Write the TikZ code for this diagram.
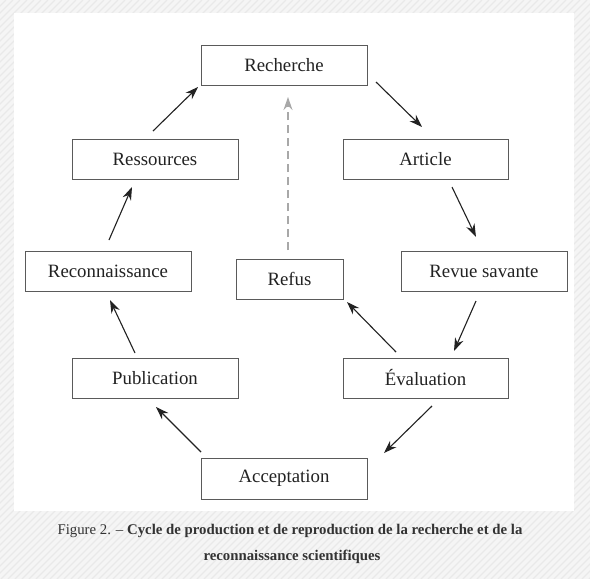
\documentclass[tikz,border=0pt]{standalone}
\usepackage{fontspec}
\setmainfont{Liberation Serif}
\usetikzlibrary{arrows.meta,calc}
\definecolor{boxline}{HTML}{5A5A5A}
\definecolor{arrowcol}{HTML}{222222}
\definecolor{dashcol}{HTML}{A8A8A8}
\definecolor{bgcol}{HTML}{F5F5F5}
\definecolor{stripecol}{HTML}{E9E9E9}
\definecolor{captcol}{HTML}{333333}
\tikzset{
  stagebox/.style={draw=boxline, line width=0.9pt, fill=white, minimum width=166pt,
    minimum height=40pt, inner sep=0pt, outer sep=0pt, text=arrowcol,
    font=\fontsize{18.8}{22}\selectfont},
  flow/.style={draw=arrowcol, line width=1.1pt, -{Stealth[length=13pt,width=9pt]}},
  backflow/.style={draw=dashcol, line width=1.1pt, dash pattern=on 8pt off 5pt,
    -{Stealth[length=13pt,width=9pt]}},
  stripe/.style={draw=stripecol, line width=1.3pt},
  captionline/.style={text=captcol, inner sep=0pt}
}
\begin{document}
\begin{tikzpicture}[x=1pt,y=-1pt]
\useasboundingbox (0,0) rectangle (590,579);
\fill[bgcol] (0,0) rectangle (590,579);
\begin{scope}
  \clip (0,0) rectangle (590,579);
  \foreach \i in {-580,-573,...,590} \draw[stripe] (\i,579) -- (\i+579,0);
\end{scope}
\fill[white] (14,13) rectangle (574,511);

\node[stagebox] (recherche) at (284,65) {Recherche};
\node[stagebox] (ressources) at (155,159) {Ressources};
\node[stagebox, minimum width=165pt] (article) at (425.5,159) {Article};
\node[stagebox] (reconnaissance) at (108,271) {Reconnaissance};
\node[stagebox, minimum width=107pt] (refus) at (289.5,279) {Refus};
\node[stagebox] (revue) at (484,271) {Revue savante};
\node[stagebox] (publication) at (155,378) {Publication};
\node[stagebox, minimum width=165pt] (evaluation) at (425.5,378) {Évaluation};
\node[stagebox, minimum height=41pt] (acceptation) at (284,478.5) {Acceptation};

\draw[flow] ($(ressources.north)+(-2,-8)$) -- ($(recherche.south west)+(-3,2)$);
\draw[flow] ($(recherche.south east)+(9,-3)$) -- ($(article.north)+(-3.5,-12)$);
\draw[flow] ($(article.south)+(26.5,8)$) -- ($(revue.north)+(-8,-14)$);
\draw[flow] ($(revue.south)+(-8,10)$) -- ($(evaluation.north)+(28.5,-7)$);
\draw[flow] ($(evaluation.north)+(-29.5,-6)$) -- ($(refus.south east)+(4,3)$);
\draw[flow] ($(evaluation.south)+(6.5,8)$) -- ($(acceptation.north east)+(17,-5)$);
\draw[flow] ($(acceptation.north west)+(0,-6)$) -- ($(publication.south)+(1,9)$);
\draw[flow] ($(publication.north)+(-20,-5)$) -- ($(reconnaissance.south)+(2,9)$);
\draw[flow] ($(reconnaissance.north)+(1,-11)$) -- ($(ressources.south)+(-23,8)$);
\draw[backflow] ($(refus.north)+(-1.5,-9)$) -- ($(recherche.south)+(4,12)$);

\node[captionline] (cap1) at (290,531) {\fontsize{14.8}{17}\selectfont Figure 2. – \textbf{Cycle de production et de reproduction de la recherche et de la}};
\node[captionline] (cap2) at (292,557) {\fontsize{14.8}{17}\selectfont\textbf{reconnaissance scientifiques}};
\end{tikzpicture}
\end{document}
